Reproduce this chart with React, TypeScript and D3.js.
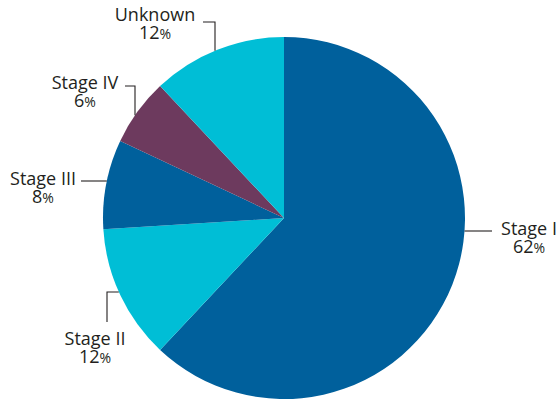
import React from "react";
import * as d3 from "d3";

const categories = ["Stage I", "Stage II", "Stage III", "Stage IV", "Unknown"];
const values = [62, 12, 8, 6, 12];
const colors = ["#00609c", "#00bed6", "#00609c", "#6d3a5e", "#00bed6"];

// label layout (positions only)
const labelLayout = [
  { tx: 529, ty: 235, path: [[492, 231]], edge: { kind: "h", at: 231, side: 1 } },
  { tx: 95, ty: 345, path: [[107, 322], [107, 292]], edge: { kind: "h", at: 292, side: -1 } },
  { tx: 43, ty: 185, path: [[81, 181]], edge: { kind: "h", at: 181, side: -1 } },
  { tx: 85, ty: 89, path: [[125, 86], [135, 86]], edge: { kind: "v", at: 135, side: -1 } },
  { tx: 155, ty: 21, path: [[203, 22], [215, 22]], edge: { kind: "v", at: 215, side: -1 } },
];

const W = 558;
const H = 402;
const cx = 284;
const cy = 218;
const R = 181;

export default function App() {
  const pie = d3.pie<number>().sort(null).value((d) => d)(values);
  const arc = d3.arc<d3.PieArcDatum<number>>().innerRadius(0).outerRadius(R);

  const edgePoint = (e: { kind: string; at: number; side: number }) => {
    if (e.kind === "h") {
      const dy = e.at - cy;
      const dx = Math.sqrt(R * R - dy * dy);
      return [cx + e.side * dx, e.at];
    } else {
      const dx = e.at - cx;
      const dy = Math.sqrt(R * R - dx * dx);
      return [e.at, cy + e.side * dy];
    }
  };

  const font = "'Open Sans', sans-serif";

  return (
    <svg
      width={W}
      height={H}
      style={{ position: "absolute", left: 0, top: 0, background: "#fff" }}
    >
      <g transform={`translate(${cx},${cy})`}>
        {pie.map((p, i) => (
          <path key={i} d={arc(p) || ""} fill={colors[i]} />
        ))}
      </g>
      {labelLayout.map((l, i) => {
        const pts = [...l.path, edgePoint(l.edge)];
        const line = d3.line()(pts as [number, number][]) || "";
        return (
          <g key={i}>
            <path d={line} fill="none" stroke="#231f20" strokeWidth={1.1} />
            <text
              x={l.tx}
              y={l.ty}
              textAnchor="middle"
              fontFamily={font}
              fontSize={18}
              fill="#231f20"
            >
              {categories[i]}
            </text>
            <text
              x={l.tx}
              y={l.ty + 18}
              textAnchor="middle"
              fontFamily={font}
              fontSize={18}
              fill="#231f20"
            >
              {values[i]}
              <tspan fontSize={14}>%</tspan>
            </text>
          </g>
        );
      })}
    </svg>
  );
}
